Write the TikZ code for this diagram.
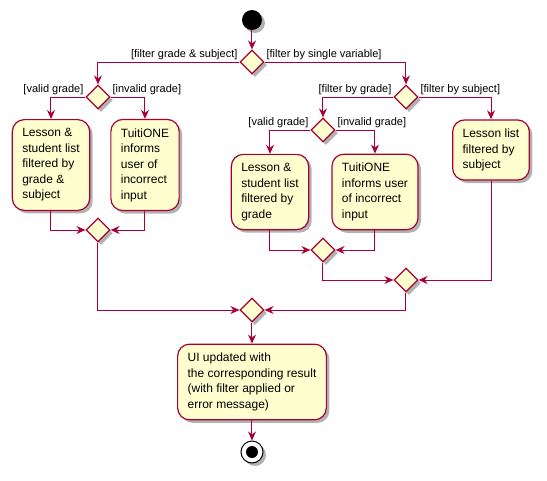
\documentclass[tikz,border=0pt]{standalone}
\usepackage{fontspec}
\setmainfont{Liberation Sans}
\usetikzlibrary{arrows.meta, positioning, shapes.geometric, shadows}
\definecolor{umlred}{HTML}{A80036}
\definecolor{umlfill}{HTML}{FEFECE}

\begin{document}
\begin{tikzpicture}[node distance=35pt]
	\tikzstyle{umlshadow} = [drop shadow={shadow xshift=3pt, shadow yshift=-3pt, 
	opacity=0.3, fill=black}]
	\tikzstyle{activity} = [rectangle, rounded corners=12pt, align=left, inner xsep=10pt, 
	inner ysep=9pt, draw=umlred, line width=1.2pt, fill=umlfill, 
	font=\fontsize{12pt}{15.5pt}\selectfont, umlshadow]
	\tikzstyle{decision} = [diamond, minimum width=24pt, minimum height=24pt, inner sep=0pt, 
	draw=umlred, line width=1.2pt, fill=umlfill, umlshadow]
	\tikzstyle{startdot} = [circle, minimum size=20pt, inner sep=0pt, fill=black, umlshadow]
	\tikzstyle{stopdot} = [circle, minimum size=22pt, inner sep=0pt, draw=black, line width=1pt, 
	fill=white, umlshadow, path picture={\fill[black] (path picture bounding box.center) circle (6pt);}]
	\tikzstyle{guardl} = [anchor=south east, inner sep=1.5pt, text=black, 
	font=\fontsize{11pt}{13pt}\selectfont]
	\tikzstyle{guardr} = [anchor=south west, inner sep=1.5pt, text=black, 
	font=\fontsize{11pt}{13pt}\selectfont]
	\tikzstyle{arrow} = [umlred, line width=1pt, -{Stealth[length=9pt, width=8pt, inset=3pt]}]
	\useasboundingbox (-252pt,20pt) rectangle (295pt,-460pt);
	\node (start) [startdot] {};
	\node (split1) [decision, below of=start, yshift=-7pt] {};
	\node (split2) [decision, below of=split1, xshift=-154pt] {};
	\node (gradeSubject) [activity, below of=split2, xshift=-47pt, yshift=-33pt] {Lesson \&\\student list\\filtered by\\grade \&\\subject};
	\node (invalid1) [activity, below of=split2, xshift=47pt, yshift=-33pt] {TuitiONE\\informs\\user of\\incorrect\\input};
	\node (merge1) [decision, below of=split2, yshift=-98pt] {};
	\node (split3) [decision, below of=split1, xshift=154pt] {};
	\node (split4) [decision, below of=split3, xshift=-83pt, yshift=2pt] {};
	\node (grade) [activity, below of=split4, xshift=-53pt, yshift=-27pt] {Lesson \&\\student list\\filtered by\\grade};
	\node (invalid2) [activity, below of=split4, xshift=52pt, yshift=-27pt] {TuitiONE\\informs user\\of incorrect\\input};
	\node (merge2) [decision, below of=split4, yshift=-85pt] {};
	\node (subject) [activity, below of=split3, xshift=85pt, yshift=-18pt] {Lesson list\\filtered by\\subject};
	\node (merge3) [decision, below of=split3, yshift=-148pt] {};
	\node (merge4) [decision, below of=split1, yshift=-213pt] {};
	\node (result) [activity, below of=merge4, yshift=-37pt] {UI updated with\\the corresponding result\\(with filter applied or\\error message)};
	\node (stop) [stopdot, below of=result, yshift=-35pt] {};
	\draw [arrow] (start) -- (split1);
	\draw [arrow] (split1.west) -| node [guardl, pos=0] {[filter grade \& subject]} (split2.north);
	\draw [arrow] (split1.east) -| node [guardr, pos=0] {[filter by single variable]} (split3.north);
	\draw [arrow] (split2.west) -| node [guardl, pos=0] {[valid grade]} (gradeSubject.north);
	\draw [arrow] (split2.east) -| node [guardr, pos=0] {[invalid grade]} (invalid1.north);
	\draw [arrow] (gradeSubject.south) |- (merge1.west);
	\draw [arrow] (invalid1.south) |- (merge1.east);
	\draw [arrow] (split3.west) -| node [guardl, pos=0] {[filter by grade]} (split4.north);
	\draw [arrow] (split3.east) -| node [guardr, pos=0] {[filter by subject]} (subject.north);
	\draw [arrow] (split4.west) -| node [guardl, pos=0] {[valid grade]} (grade.north);
	\draw [arrow] (split4.east) -| node [guardr, pos=0] {[invalid grade]} (invalid2.north);
	\draw [arrow] (grade.south) |- (merge2.west);
	\draw [arrow] (invalid2.south) |- (merge2.east);
	\draw [arrow] (merge2.south) |- (merge3.west);
	\draw [arrow] (subject.south) |- (merge3.east);
	\draw [arrow] (merge1.south) |- (merge4.west);
	\draw [arrow] (merge3.south) |- (merge4.east);
	\draw [arrow] (merge4) -- (result);
	\draw [arrow] (result) -- (stop);
\end{tikzpicture}
\end{document}
